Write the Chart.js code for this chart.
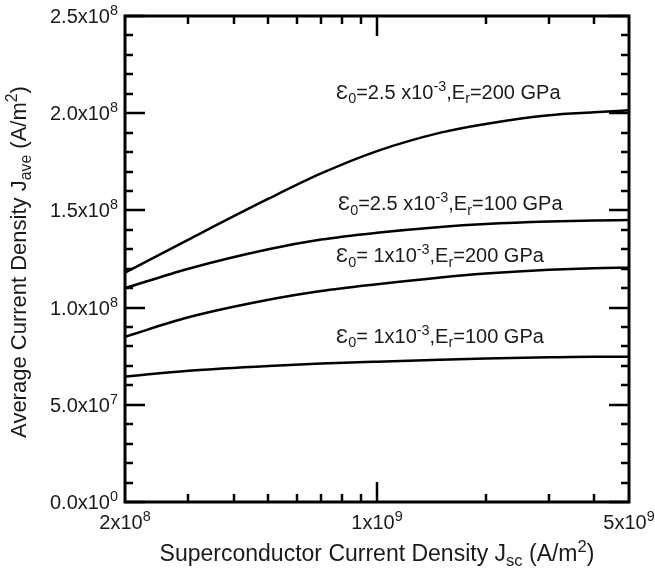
<!DOCTYPE html>
<html>
<head>
<meta charset="utf-8">
<script src="https://cdn.jsdelivr.net/npm/chart.js@4.4.1/dist/chart.umd.min.js"></script>
<style>
  body { margin: 0; background: #fff; }
  #wrap { width: 655px; height: 578px; }
</style>
</head>
<body>
<div id="wrap"><canvas id="chart" width="655" height="578"></canvas></div>
<script>
// superconductor current density (A/m^2)
var jsc = [2e8, 3e8, 5e8, 7e8, 1e9, 1.5e9, 2e9, 3e9, 4e9, 5e9];

// average current density, one series per curve
var e25_200 = [1.18e8, 1.35e8, 1.56e8, 1.69e8, 1.805e8, 1.90e8, 1.945e8, 1.99e8, 2.005e8, 2.015e8];
var e25_100 = [1.10e8, 1.20e8, 1.30e8, 1.35e8, 1.385e8, 1.415e8, 1.43e8, 1.443e8, 1.448e8, 1.45e8];
var e10_200 = [0.85e8, 0.95e8, 1.04e8, 1.085e8, 1.12e8, 1.155e8, 1.175e8, 1.195e8, 1.203e8, 1.205e8];
var e10_100 = [6.45e7, 6.75e7, 7.0e7, 7.12e7, 7.22e7, 7.32e7, 7.38e7, 7.44e7, 7.47e7, 7.47e7];

// curve labels: eps / Er texts, anchored at (labelX, labelY) in data units
var labelEps = ["=2.5 x10", "=2.5 x10", "= 1x10", "= 1x10"];
var labelEr = ["=200 GPa", "=100 GPa", "=200 GPa", "=100 GPa"];
var labelX = [7.7e8, 7.8e8, 7.7e8, 7.7e8];
var labelY = [2.11e8, 1.536e8, 1.27e8, 0.855e8];

var yMin = 0, yMax = 2.5e8;
var yMajor = [0, 5e7, 1e8, 1.5e8, 2e8, 2.5e8];
var yMantissa = ["0.0", "5.0", "1.0", "1.5", "2.0", "2.5"];
var yExp = ["0", "7", "8", "8", "8", "8"];
var xMinor = [3e8, 4e8, 5e8, 6e8, 7e8, 8e8, 9e8, 2e9, 3e9, 4e9];
var xMajor = [2e8, 1e9, 5e9];
var xMantissa = ["2", "1", "5"];
var xExp = ["8", "9", "9"];

var FONT = "'Liberation Sans', Arial, sans-serif";

function pts(ys) {
    return jsc.map(function (x, i) { return { x: x, y: ys[i] }; });
}

// draw text made of normal / sub / sup pieces
function richWidth(ctx, parts, size) {
    var w = 0;
    parts.forEach(function (p) {
        var s = p[1] === "n" ? size : size * 0.72;
        ctx.font = s + "px " + FONT;
        w += ctx.measureText(p[0]).width;
    });
    return w;
}
function richText(ctx, parts, x, y, size, align) {
    var w = richWidth(ctx, parts, size);
    if (align === "center") x -= w / 2;
    if (align === "right") x -= w;
    ctx.textBaseline = "alphabetic";
    ctx.textAlign = "left";
    parts.forEach(function (p) {
        var s = p[1] === "n" ? size : size * 0.72;
        var dy = 0;
        if (p[1] === "sup") dy = -size * 0.4;
        if (p[1] === "sub") dy = size * 0.22;
        ctx.font = s + "px " + FONT;
        ctx.fillText(p[0], x, y + dy);
        x += ctx.measureText(p[0]).width;
    });
}

var framePlugin = {
    id: "frame",
    afterDraw: function (chart) {
        var ctx = chart.ctx;
        var a = chart.chartArea;
        var xs = chart.scales.x, ys = chart.scales.y;
        ctx.save();
        ctx.strokeStyle = "#000";
        ctx.fillStyle = "#1a1a1a";
        ctx.lineWidth = 3;
        ctx.strokeRect(a.left, a.top, a.right - a.left, a.bottom - a.top);

        ctx.lineWidth = 2.5;
        ctx.beginPath();
        // y ticks, every 1e7, both sides, pointing inward
        for (var v = yMin; v <= yMax + 1; v += 1e7) {
            var py = Math.round(ys.getPixelForValue(v));
            var len = (Math.round(v / 1e7) % 5 === 0) ? 20 : 8;
            ctx.moveTo(a.left, py); ctx.lineTo(a.left + len, py);
            ctx.moveTo(a.right, py); ctx.lineTo(a.right - len, py);
        }
        xMinor.forEach(function (v) {
            var px = Math.round(xs.getPixelForValue(v));
            ctx.moveTo(px, a.top); ctx.lineTo(px, a.top + 8);
            ctx.moveTo(px, a.bottom); ctx.lineTo(px, a.bottom - 8);
        });
        var p9 = Math.round(xs.getPixelForValue(1e9));
        ctx.moveTo(p9, a.top); ctx.lineTo(p9, a.top + 20);
        ctx.moveTo(p9, a.bottom); ctx.lineTo(p9, a.bottom - 20);
        ctx.stroke();

        // y tick labels
        yMajor.forEach(function (v, i) {
            var py = ys.getPixelForValue(v);
            richText(ctx, [[yMantissa[i] + "x10", "n"], [yExp[i], "sup"]], a.left - 7, py + 7, 20, "right");
        });
        // x tick labels
        xMajor.forEach(function (v, i) {
            var px = xs.getPixelForValue(v);
            richText(ctx, [[xMantissa[i] + "x10", "n"], [xExp[i], "sup"]], px, a.bottom + 27, 20, "center");
        });

        // axis titles
        richText(ctx, [["Superconductor Current Density J", "n"], ["sc", "sub"], [" (A/m", "n"], ["2", "sup"], [")", "n"]],
            (a.left + a.right) / 2, a.bottom + 59, 23, "center");
        ctx.save();
        ctx.translate(26, 262);
        ctx.rotate(-Math.PI / 2);
        richText(ctx, [["Average Current Density J", "n"], ["ave", "sub"], [" (A/m", "n"], ["2", "sup"], [")", "n"]],
            0, 0, 22, "center");
        ctx.restore();

        // curve labels
        for (var k = 0; k < labelX.length; k++) {
            var lx = xs.getPixelForValue(labelX[k]);
            var ly = ys.getPixelForValue(labelY[k]);
            richText(ctx, [["\u0190", "n"], ["0", "sub"], [labelEps[k], "n"], ["-3", "sup"],
                [",E", "n"], ["r", "sub"], [labelEr[k], "n"]], lx, ly + 7, 20, "left");
        }
        ctx.restore();
    }
};

function ds(label, ys) {
    return {
        label: label,
        data: pts(ys),
        borderColor: "#000",
        borderWidth: 2.5,
        pointRadius: 0,
        fill: false,
        cubicInterpolationMode: "monotone"
    };
}

var chart = new Chart(document.getElementById("chart").getContext("2d"), {
    type: "line",
    data: {
        datasets: [
            ds("e0=2.5e-3, Er=200 GPa", e25_200),
            ds("e0=2.5e-3, Er=100 GPa", e25_100),
            ds("e0=1e-3, Er=200 GPa", e10_200),
            ds("e0=1e-3, Er=100 GPa", e10_100)
        ]
    },
    options: {
        responsive: false,
        animation: false,
        layout: { padding: { left: 125, top: 16, right: 26, bottom: 76 } },
        plugins: { legend: { display: false }, tooltip: { enabled: false } },
        scales: {
            x: { type: "logarithmic", min: 2e8, max: 5e9, display: false },
            y: { type: "linear", min: yMin, max: yMax, display: false }
        }
    },
    plugins: [framePlugin]
});
</script>
</body>
</html>
